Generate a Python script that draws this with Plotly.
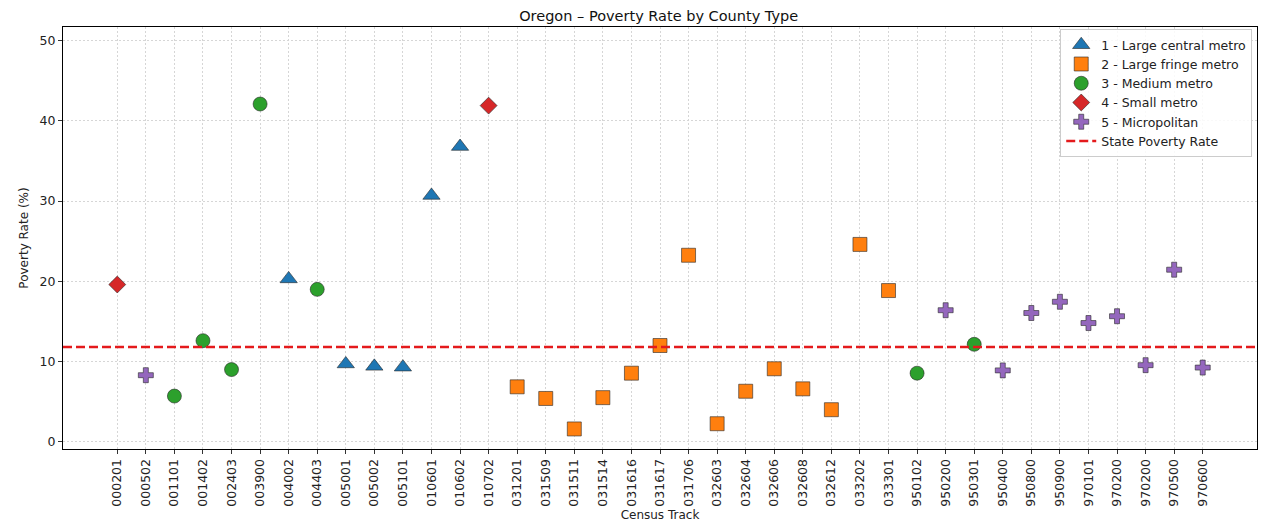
import plotly.graph_objects as go

tracts = ["000201", "000502", "001101", "001402", "002403", "003900", "004002", "004403",
          "005001", "005002", "005101", "010601", "010602", "010702", "031201", "031509",
          "031511", "031514", "031616", "031617", "031706", "032603", "032604", "032606",
          "032608", "032612", "033202", "033301", "950102", "950200", "950301", "950400",
          "950800", "950900", "970101", "970200", "970200", "970500", "970600"]
county_type = [4, 5, 3, 3, 3, 3, 1, 3,
               1, 1, 1, 1, 1, 4, 2, 2,
               2, 2, 2, 2, 2, 2, 2, 2,
               2, 2, 2, 2, 3, 5, 3, 5,
               5, 5, 5, 5, 5, 5, 5]
poverty_rate = [19.6, 8.3, 5.7, 12.6, 9.0, 42.1, 20.3, 19.0,
                9.7, 9.4, 9.3, 30.7, 36.8, 41.9, 6.85, 5.4,
                1.6, 5.5, 8.55, 12.0, 23.25, 2.25, 6.3, 9.1,
                6.6, 4.0, 24.6, 18.85, 8.55, 16.4, 12.15, 8.9,
                16.05, 17.45, 14.8, 15.65, 9.55, 21.45, 9.25]
state_rate = 11.8

type_names = {1: "1 - Large central metro", 2: "2 - Large fringe metro", 3: "3 - Medium metro",
              4: "4 - Small metro", 5: "5 - Micropolitan"}
type_colors = {1: "#1f77b4", 2: "#ff7f0e", 3: "#2ca02c", 4: "#d62728", 5: "#9467bd"}
type_symbols = {1: "triangle-up", 2: "square", 3: "circle", 4: "diamond", 5: "cross"}
type_sizes = {1: 15, 2: 14, 3: 14, 4: 13, 5: 12.5}

x_pos = list(range(len(tracts)))

fig = go.Figure()
for t in [1, 2, 3, 4, 5]:
    xs = [x for x, ct in zip(x_pos, county_type) if ct == t]
    ys = [y for y, ct in zip(poverty_rate, county_type) if ct == t]
    fig.add_trace(go.Scatter(
        x=xs, y=ys, mode="markers", name=type_names[t],
        marker=dict(symbol=type_symbols[t], size=type_sizes[t], color=type_colors[t],
                    line=dict(color="rgba(40,40,40,0.75)", width=0.8)),
    ))

fig.add_hline(y=state_rate, line=dict(color="#e41a1c", width=2.5, dash="9px,4px"))
fig.add_trace(go.Scatter(x=[None], y=[None], mode="lines", name="State Poverty Rate",
                         line=dict(color="#e41a1c", width=2.5, dash="9px,4px")))

# page body has an 8px margin, so the figure is shrunk and shifted accordingly
fig.update_layout(
    width=1261, height=519,
    margin=dict(l=55, r=12, t=19, b=78, autoexpand=False),
    paper_bgcolor="white", plot_bgcolor="white",
    font=dict(family="DejaVu Sans", size=12, color="#222"),
    title=dict(text="Oregon – Poverty Rate by County Type", x=0.516, xanchor="center",
               yref="container", y=0.9856, yanchor="middle", automargin=False,
               font=dict(size=14.5, color="#111")),
    legend=dict(x=0.996, y=0.995, xanchor="right", yanchor="top",
                bgcolor="rgba(255,255,255,0.85)", bordercolor="#cccccc", borderwidth=1,
                font=dict(size=12.5), tracegroupgap=0, itemwidth=30),
    showlegend=True,
)
fig.update_xaxes(
    range=[-1.9, 39.9], tickmode="array", tickvals=x_pos, ticktext=tracts,
    tickangle=-90, ticks="outside", ticklen=4, tickcolor="#333", automargin=False,
    showgrid=True, gridcolor="#d6d6d6", gridwidth=0.6, griddash="2px,2px",
    showline=True, linecolor="black", linewidth=1, mirror=True, zeroline=False,
    title=dict(text="Census Track", font=dict(size=12), standoff=4),
    tickfont=dict(size=12.5),
)
fig.update_yaxes(
    range=[-0.9, 51.7], tickvals=[0, 10, 20, 30, 40, 50], ticks="outside", ticklen=4,
    tickcolor="#333", automargin=False,
    showgrid=True, gridcolor="#d6d6d6", gridwidth=0.6, griddash="2px,2px",
    showline=True, linecolor="black", linewidth=1, mirror=True, zeroline=False,
    title=dict(text="Poverty Rate (%)", font=dict(size=12), standoff=8),
    tickfont=dict(size=12.5),
)

fig.write_html("out.html")
